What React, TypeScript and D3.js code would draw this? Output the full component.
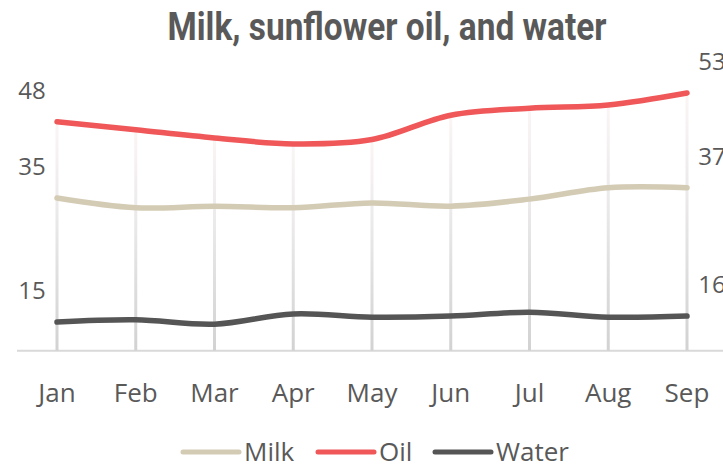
import React from "react";
import * as d3 from "d3";

const months = ["Jan", "Feb", "Mar", "Apr", "May", "Jun", "Jul", "Aug", "Sep"];
const milk = [28.2, 26.4, 26.7, 26.4, 27.3, 26.7, 28.0, 30.1, 30.1];
const oil = [42.3, 40.8, 39.3, 38.2, 39.0, 43.5, 44.8, 45.4, 47.6];
const water = [5.3, 5.7, 4.9, 6.8, 6.2, 6.4, 7.1, 6.2, 6.4];
const startLabels = ["35", "48", "15"];
const endLabels = ["37", "53", "16"];
const seriesNames = ["Milk", "Oil", "Water"];
const colors = ["#D4CBB5", "#EF5759", "#555555"];

const W = 723;
const H = 467;
const TEXT = "#595959";
const FONT = "'Open Sans', 'Noto Sans', sans-serif";

export default function App() {
  const x = d3.scalePoint<string>().domain(months).range([57, 687]);
  const y = d3.scaleLinear().domain([0, 50]).range([350.7, 80]);
  const series = [milk, oil, water];
  const line = d3
    .line<number>()
    .x((_, i) => x(months[i]) as number)
    .y((d) => y(d))
    .curve(d3.curveCatmullRom.alpha(0.5));

  const legendItems = [
    { name: seriesNames[0], x0: 183 },
    { name: seriesNames[1], x0: 318 },
    { name: seriesNames[2], x0: 435 },
  ];

  return (
    <svg
      width={W}
      height={H}
      style={{ position: "absolute", left: 0, top: 0, background: "#fff" }}
    >
      <defs>
        <linearGradient id="vg" x1="0" y1="0" x2="0" y2="1">
          <stop offset="0%" stopColor="#fbf5f5" />
          <stop offset="40%" stopColor="#ebe9ea" />
          <stop offset="100%" stopColor="#d2d2d2" />
        </linearGradient>
      </defs>
      <rect width={W} height={H} fill="#fff" />
      <text
        x={387}
        y={40}
        textAnchor="middle"
        fontFamily="Roboto, sans-serif"
        fontWeight={700}
        fontSize={38}
        fill={TEXT}
        textLength={439}
        lengthAdjust="spacingAndGlyphs"
      >
        Milk, sunflower oil, and water
      </text>
      {/* baseline */}
      <line x1={17} x2={W} y1={y(0)} y2={y(0)} stroke="#d9d9d9" strokeWidth={2} />
      {/* vertical drop lines */}
      {months.map((m, i) => (
        <rect
          key={m}
          x={(x(m) as number) - 1.5}
          y={y(oil[i])}
          width={3}
          height={y(0) - y(oil[i])}
          fill="url(#vg)"
        />
      ))}
      {/* series */}
      {series.map((s, k) => (
        <path
          key={k}
          d={line(s) as string}
          fill="none"
          stroke={colors[k]}
          strokeWidth={5.5}
          strokeLinecap="round"
          strokeLinejoin="round"
        />
      ))}
      {/* start / end labels */}
      {series.map((s, k) => (
        <g key={"l" + k} fontFamily={FONT} fontSize={24} fill={TEXT}>
          <text x={(x(months[0]) as number) - 25} y={y(s[0]) - 23} textAnchor="middle">
            {startLabels[k]}
          </text>
          <text
            x={(x(months[months.length - 1]) as number) + 25}
            y={y(s[s.length - 1]) - 23}
            textAnchor="middle"
          >
            {endLabels[k]}
          </text>
        </g>
      ))}
      {/* x labels */}
      {months.map((m) => (
        <text
          key={"x" + m}
          x={x(m) as number}
          y={402}
          textAnchor="middle"
          fontFamily={FONT}
          fontSize={26}
          fill={TEXT}
        >
          {m}
        </text>
      ))}
      {/* legend */}
      {legendItems.map((it, k) => (
        <g key={"lg" + k}>
          <line
            x1={it.x0}
            x2={it.x0 + 56}
            y1={452}
            y2={452}
            stroke={colors[k]}
            strokeWidth={5}
            strokeLinecap="round"
          />
          <text x={it.x0 + 61} y={461} fontFamily={FONT} fontSize={26} fill={TEXT}>
            {it.name}
          </text>
        </g>
      ))}
    </svg>
  );
}
